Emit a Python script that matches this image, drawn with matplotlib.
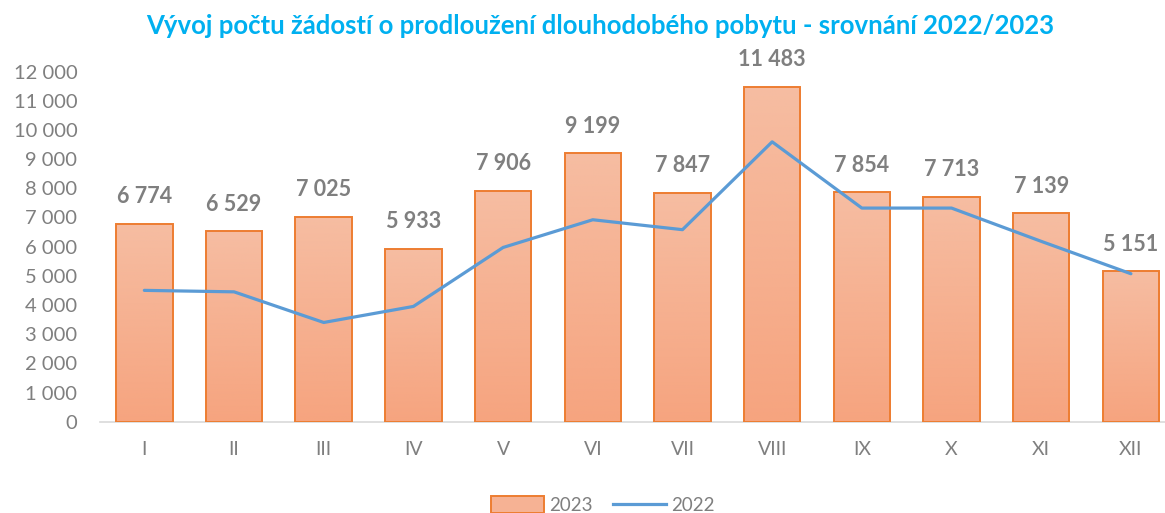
import numpy as np
import matplotlib
matplotlib.use("Agg")
import matplotlib.pyplot as plt
from matplotlib.ticker import FuncFormatter, MultipleLocator
from matplotlib.colors import LinearSegmentedColormap
from matplotlib.patches import Patch
from matplotlib.lines import Line2D

plt.rcParams['font.family'] = ['Lato', 'DejaVu Sans']

months = ["I", "II", "III", "IV", "V", "VI", "VII", "VIII", "IX", "X", "XI", "XII"]
values_2023 = [6774, 6529, 7025, 5933, 7906, 9199, 7847, 11483, 7854, 7713, 7139, 5151]
values_2022 = [4500, 4450, 3400, 3950, 5970, 6920, 6580, 9590, 7320, 7320, 6180, 5070]
title = "Vývoj počtu žádostí o prodloužení dlouhodobého pobytu - srovnání 2022/2023"

W, H = 1165, 513
fig = plt.figure(figsize=(W / 100, H / 100), dpi=100)
ax = fig.add_axes([99.5 / W, 1 - 421.7 / H, 1 - 99.5 / W, (421.7 - 71.5) / H])

x = np.arange(len(months))
gray = "#7f7f7f"
edge = "#ED7D31"

bars = ax.bar(x, values_2023, width=0.63, facecolor="none", edgecolor=edge,
              linewidth=1.4, zorder=3)
cmap = LinearSegmentedColormap.from_list("g", ["#F6A47F", "#F6BDA2"])
grad = np.linspace(0, 1, 256).reshape(-1, 1)
for b in bars:
    x0, y0 = b.get_x(), b.get_y()
    w, h = b.get_width(), b.get_height()
    im = ax.imshow(grad, cmap=cmap, origin="lower", aspect="auto",
                   extent=[x0, x0 + w, y0, y0 + h], zorder=2)
    im.set_clip_path(b)

ax.plot(x, values_2022, color="#5B9BD5", linewidth=2.3, zorder=4,
        solid_joinstyle="round", solid_capstyle="round")

fmt = lambda v: f"{int(v):,}".replace(",", " ")
for xi, v in zip(x, values_2023):
    ax.annotate(fmt(v), (xi, v), xytext=(0, 19.5), textcoords="offset points",
                ha="center", va="center", fontsize=15.5, fontweight="bold",
                color=gray, clip_on=False, zorder=5)

ax.set_xlim(-0.5, 11.38)
ax.set_ylim(0, 12000)
ax.yaxis.set_major_locator(MultipleLocator(1000))
ax.yaxis.set_major_formatter(FuncFormatter(lambda v, p: fmt(v)))
ax.set_xticks(x)
ax.set_xticklabels(months)
ax.tick_params(axis="y", length=0, pad=16, labelsize=14.5, labelcolor=gray)
ax.tick_params(axis="x", length=0, pad=14, labelsize=14, labelcolor=gray)
for s in ["top", "right", "left"]:
    ax.spines[s].set_visible(False)
ax.spines["bottom"].set_color("#d9d9d9")
ax.spines["bottom"].set_linewidth(1.2)
ax.spines["bottom"].set_zorder(1)

fig.text(600 / W, 1 - 26 / H, title, ha="center", va="center", fontsize=18.5,
         fontweight="bold", color="#00B0F0")

handles = [Patch(facecolor="#F6B294", edgecolor=edge, linewidth=1.4),
           Line2D([0], [0], color="#5B9BD5", linewidth=2.3)]
fig.legend(handles, ["2023", "2022"], loc="center", bbox_to_anchor=(603 / W, 1 - 505 / H),
           ncol=2, frameon=False, fontsize=13.5, labelcolor=gray, handlelength=2.8,
           handleheight=1.0, handletextpad=0.3, columnspacing=1.1, borderpad=0)

fig.savefig("out.png", dpi=100)
